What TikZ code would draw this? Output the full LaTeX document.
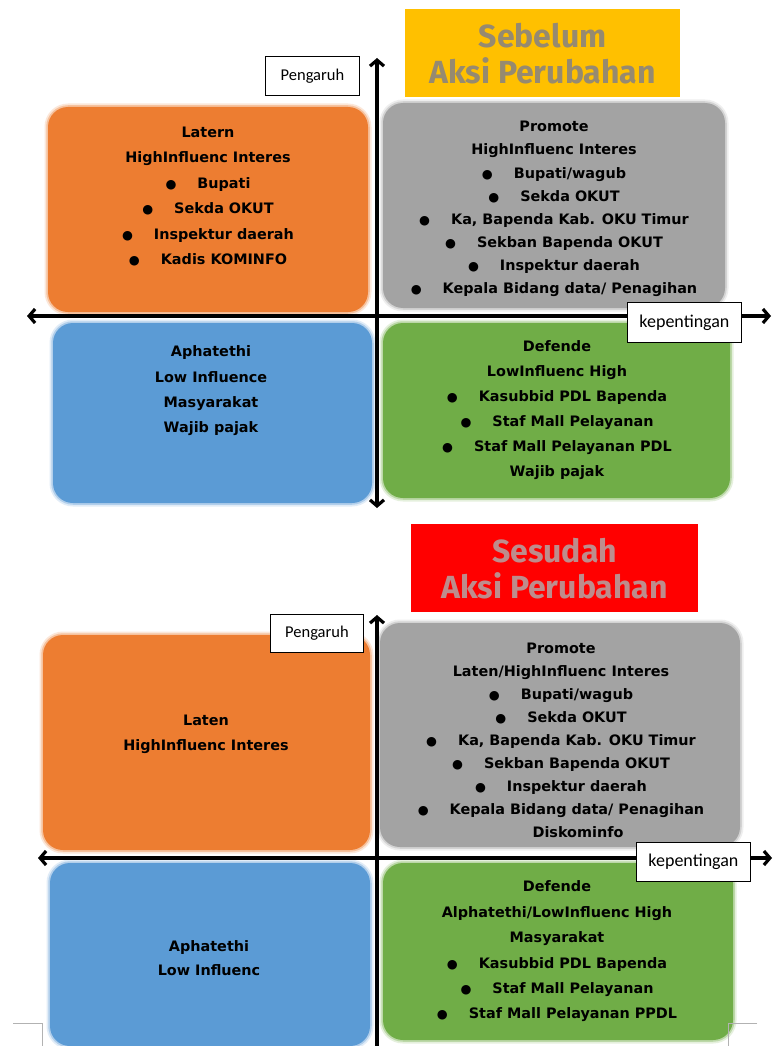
\documentclass[tikz,border=0pt]{standalone}
\usepackage{fontspec}
\setmainfont{DejaVu Sans}
\newfontfamily\labfont{Carlito}
\newfontfamily\headfont{Fira Sans}
\newfontfamily\symfont{DejaVu Sans}
\usetikzlibrary{arrows.meta}

\definecolor{qorange}{HTML}{ED7D31}
\definecolor{qgray}{HTML}{A3A3A3}
\definecolor{qblue}{HTML}{5B9BD5}
\definecolor{qgreen}{HTML}{70AD47}
\definecolor{hyellow}{HTML}{FFC000}
\definecolor{hred}{HTML}{FF0000}
\definecolor{htextA}{RGB}{150,138,112}
\definecolor{htextB}{RGB}{190,140,140}

% bullet followed by the tab gap
\newcommand{\bi}{{\symfont\bfseries\fontsize{12.5}{12.5}\selectfont ●}\hspace{21pt}}

\begin{document}
\begin{tikzpicture}[x=1pt,y=-1pt,
  quad/.style={rounded corners=20pt, inner sep=0pt, outer sep=0pt, fill=#1,
    anchor=north west,
    preaction={draw=#1, line width=7pt, draw opacity=0.18},
    preaction={draw=#1, line width=3.5pt, draw opacity=0.35}},
  body/.style={align=center, inner sep=0pt, text=black,
    font=\bfseries\fontsize{14.4}{#1}\selectfont},
  tip/.tip={Straight Barb[length=6pt,width=14pt,line width=3.2pt]},
  axis/.style={line width=3.2pt, tip-tip},
  axisup/.style={line width=3.2pt, tip-},
  lab/.style={draw=black, line width=0.9pt, fill=white, inner sep=0pt,
    anchor=north west, font=\labfont\fontsize{16.5}{18}\selectfont},
  labk/.style={lab, font=\labfont\fontsize{18}{20}\selectfont},
  head/.style={inner sep=0pt, anchor=north west, align=center,
    font=\headfont\bfseries\fontsize{32}{36}\selectfont},
  cornermark/.style={draw=black!30, line width=0.6pt}
]
\fill[white] (0,0) rectangle (773,1046);
\useasboundingbox (0,0) rectangle (773,1046);

% ---------- before: quadrants ----------
\node[quad=qorange, minimum width=320pt, minimum height=205pt] (latA) at (48,107) {};
\node[quad=qgray,   minimum width=342pt, minimum height=205pt] (proA) at (383,103) {};
\node[quad=qblue,   minimum width=319pt, minimum height=180pt] (apaA) at (53,323) {};
\node[quad=qgreen,  minimum width=347pt, minimum height=175pt] (defA) at (383,323) {};

\node[body=25.4] (latAtxt) at (208,196.5) {Latern\\HighInfluenc Interes\\\bi Bupati\\\bi Sekda OKUT\\\bi Inspektur daerah\\\bi Kadis KOMINFO};
\node[body=23.1] (proAtxt) at (554,209) {Promote\\HighInfluenc Interes\\\bi Bupati/wagub\\\bi Sekda OKUT\\\bi Ka, Bapenda Kab. OKU Timur\\\bi Sekban Bapenda OKUT\\\bi Inspektur daerah\\\bi Kepala Bidang data/ Penagihan};
\node[body=25.3] (apaAtxt) at (211,391) {Aphatethi\\Low Influence\\Masyarakat\\Wajib pajak};
\node[body=25] (defAtxt) at (557,410.5) {Defende\\LowInfluenc High\\\bi Kasubbid PDL Bapenda\\\bi Staf Mall Pelayanan\\\bi Staf Mall Pelayanan PDL\\Wajib pajak};

% axes
\coordinate (vAtop) at (377,58);
\coordinate (vAbot) at (377,508);
\coordinate (hAleft) at (27,316);
\coordinate (hAright) at (771,316);
\draw[axis] (vAtop) -- (vAbot);
\draw[axis] (hAleft) -- (hAright);

\node[lab,  minimum width=94pt,  minimum height=39pt] (infA) at (265,56) {Pengaruh};
\node[labk, minimum width=114pt, minimum height=40pt] (impA) at (627,302) {kepentingan};

\node[head, fill=hyellow, text=htextA, minimum width=275pt, minimum height=88pt] (hdrA) at (405,9) {Sebelum\\Aksi Perubahan};

% ---------- after: quadrants ----------
\node[quad=qorange, minimum width=327pt, minimum height=215pt] (latB) at (43,635) {};
\node[quad=qgray,   minimum width=360pt, minimum height=224pt] (proB) at (380,623) {};
\node[quad=qblue,   minimum width=320pt, minimum height=183pt] (apaB) at (50,863) {};
\node[quad=qgreen,  minimum width=350pt, minimum height=177pt] (defB) at (383,863) {};

\node[body=25] (latBtxt) at (206,734.5) {Laten\\HighInfluenc Interes};
\node[body=23] (proBtxt) at (561,740) {Promote\\Laten/HighInfluenc Interes\\\bi Bupati/wagub\\\bi Sekda OKUT\\\bi Ka, Bapenda Kab. OKU Timur\\\bi Sekban Bapenda OKUT\\\bi Inspektur daerah\\\bi Kepala Bidang data/ Penagihan\\\hspace*{34pt}Diskominfo};
\node[body=24] (apaBtxt) at (209,958) {Aphatethi\\Low Influenc};
\node[body=25.4] (defBtxt) at (557,951.5) {Defende\\Alphatethi/LowInfluenc High\\Masyarakat\\\bi Kasubbid PDL Bapenda\\\bi Staf Mall Pelayanan\\\bi Staf Mall Pelayanan PPDL};

\coordinate (vBtop) at (377,615);
\coordinate (vBbot) at (377,1050);
\coordinate (hBleft) at (38,858);
\coordinate (hBright) at (772,858);
\draw[axisup] (vBtop) -- (vBbot);
\draw[axis] (hBleft) -- (hBright);

\node[lab,  minimum width=93pt,  minimum height=38pt] (infB) at (270,614) {Pengaruh};
\node[labk, minimum width=114pt, minimum height=39pt] (impB) at (636,842) {kepentingan};

\node[head, fill=hred, text=htextB, minimum width=287pt, minimum height=88pt] (hdrB) at (411,524) {Sesudah\\Aksi Perubahan};

% page corner marks
\coordinate (cmLa) at (13,1023);
\coordinate (cmLb) at (42,1023);
\coordinate (cmLc) at (42,1046);
\coordinate (cmRa) at (757,1023);
\coordinate (cmRb) at (728,1023);
\coordinate (cmRc) at (728,1046);
\draw[cornermark] (cmLa) -- (cmLb) -- (cmLc);
\draw[cornermark] (cmRa) -- (cmRb) -- (cmRc);
\end{tikzpicture}
\end{document}
